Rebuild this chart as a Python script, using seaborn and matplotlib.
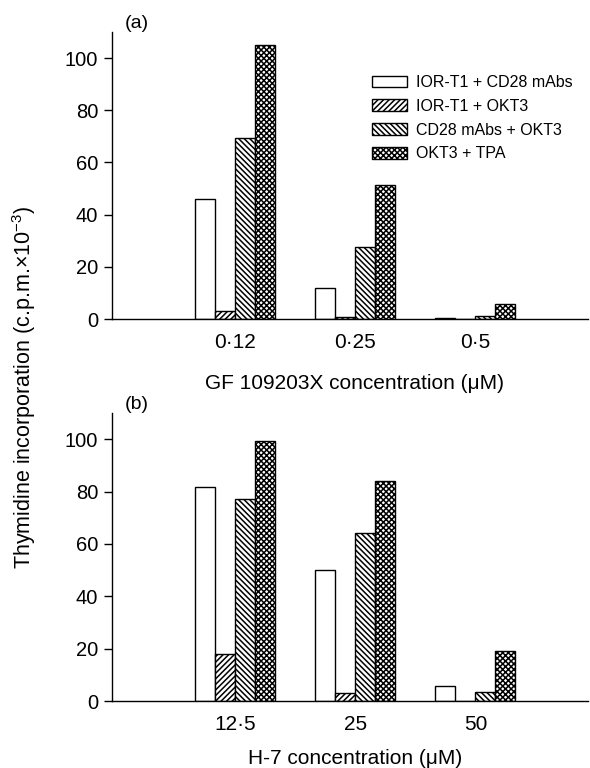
import pandas as pd
import matplotlib
matplotlib.use("Agg")
import matplotlib.pyplot as plt
import matplotlib.patches as mpatches
import seaborn as sns

#  Data 
treatments = ["IOR-T1 + CD28 mAbs", "IOR-T1 + OKT3", "CD28 mAbs + OKT3", "OKT3 + TPA"]

gf_conc = ["0·12", "0·25", "0·5"]
gf_ior_cd28 = [46, 11.8, 0.4]
gf_ior_okt3 = [3, 0.9, 0.2]
gf_cd28_okt3 = [69.5, 27.5, 1.3]
gf_okt3_tpa = [105, 51.5, 5.7]

h7_conc = ["12·5", "25", "50"]
h7_ior_cd28 = [81.6, 50, 5.9]
h7_ior_okt3 = [17.9, 2.9, 0.2]
h7_cd28_okt3 = [77.2, 64.2, 3.3]
h7_okt3_tpa = [99.4, 84.1, 19]

hatches = ["", "//////", "\\\\\\\\\\\\", "xxxxxx"]

sns.set_style("ticks")
plt.rcParams["font.family"] = ["Liberation Sans", "DejaVu Sans"]
plt.rcParams["mathtext.fontset"] = "custom"
plt.rcParams["mathtext.rm"] = "Liberation Sans"
plt.rcParams["hatch.linewidth"] = 1.1
# plain black ink like the printed figure
for key in ["text.color", "axes.labelcolor", "xtick.color", "ytick.color", "axes.edgecolor"]:
    plt.rcParams[key] = "black"


def long_table(conc, series):
    rows = []
    for name, vals in zip(treatments, series):
        for c, v in zip(conc, vals):
            rows.append({"conc": c, "treatment": name, "value": v})
    return pd.DataFrame(rows)


def draw_panel(ax, conc, series, xlabel, label_y, tag):
    df = long_table(conc, series)
    sns.barplot(data=df, x="conc", y="value", hue="treatment",
                order=conc, hue_order=treatments, width=0.667,
                palette=["white"] * 4,
                edgecolor="black", linewidth=1.0, errorbar=None,
                legend=False, ax=ax)
    # one hatch per treatment
    for container, h in zip(ax.containers, hatches):
        for bar in container:
            bar.set_hatch(h)
            bar.set_facecolor("white")
            bar.set_edgecolor("black")

    ax.set_xlim(-1.025, 2.94)
    ax.set_ylim(0, 110)
    ax.set_yticks([0, 20, 40, 60, 80, 100])
    ax.tick_params(axis="y", labelsize=14.5, length=6, width=1, pad=4)
    ax.tick_params(axis="x", labelsize=15, length=0, pad=10)
    ax.set_ylabel("")
    ax.set_xlabel(xlabel, fontsize=15)
    ax.xaxis.set_label_coords(0.51, label_y)
    sns.despine(ax=ax)
    for s in ["left", "bottom"]:
        ax.spines[s].set_linewidth(1.0)
    ax.text(0.027, 1.0, tag, transform=ax.transAxes, fontsize=14,
            ha="left", va="bottom")


fig = plt.figure(figsize=(5.9, 7.68), dpi=100)
ax_a = fig.add_axes([0.19, 0.5846, 0.807, 0.3737])
ax_b = fig.add_axes([0.19, 0.0872, 0.807, 0.375])

draw_panel(ax_a, gf_conc, [gf_ior_cd28, gf_ior_okt3, gf_cd28_okt3, gf_okt3_tpa],
           "GF 109203X concentration (μM)", -0.19, "(a)")
draw_panel(ax_b, h7_conc, [h7_ior_cd28, h7_ior_okt3, h7_cd28_okt3, h7_okt3_tpa],
           "H-7 concentration (μM)", -0.165, "(b)")

handles = [mpatches.Patch(facecolor="white", edgecolor="black", hatch=h, label=t)
           for t, h in zip(treatments, hatches)]
ax_a.legend(handles=handles, loc="upper left", bbox_to_anchor=(0.545, 0.85),
            frameon=False, fontsize=11.5, handlelength=2.2, handleheight=0.75,
            handletextpad=0.6, labelspacing=0.55, borderpad=0, borderaxespad=0)

fig.text(0.04, 0.496, "Thymidine incorporation (c.p.m.×10$^{-3}$)",
         rotation=90, ha="center", va="center", fontsize=15.5)

fig.savefig("out.png", dpi=100)
